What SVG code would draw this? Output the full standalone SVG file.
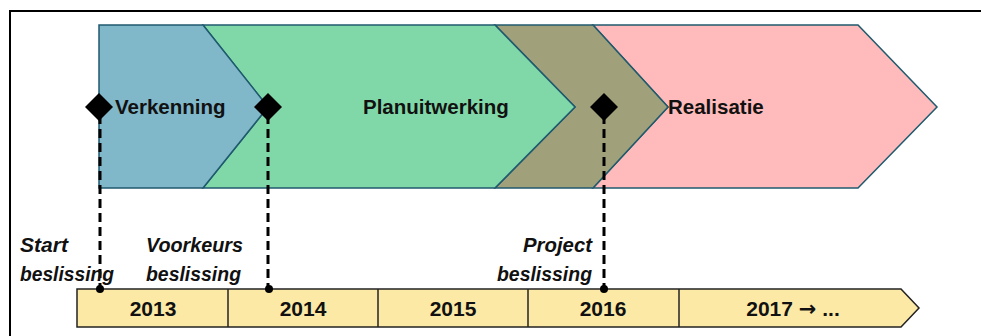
<svg xmlns="http://www.w3.org/2000/svg" width="981" height="336" viewBox="0 0 981 336">
<style>
.ph{stroke:#1f5a6e;stroke-width:1.5;stroke-linejoin:miter}
.lbl{font-family:"Liberation Sans",Arial,sans-serif;font-weight:bold;font-size:20.5px;fill:#111}
.yr{font-family:"Liberation Sans",Arial,sans-serif;font-weight:bold;font-size:21px;fill:#111;text-anchor:middle}
.it{font-family:"Liberation Sans",Arial,sans-serif;font-weight:bold;font-style:italic;font-size:20px;fill:#111}
.dash{stroke:#000;stroke-width:3;stroke-dasharray:9 5;fill:none}
.yb{fill:#fde9a6;stroke:#222;stroke-width:1.5}
.sep{stroke:#222;stroke-width:1.5}
</style>
<rect x="0" y="0" width="981" height="336" fill="#fff"/>
<path d="M10 350 V11 H990" fill="none" stroke="#000" stroke-width="2"/>
<g id="realisatie">
<polygon class="ph" points="593,25 858,25 937,107 858,188 593,188 668,107" fill="#ffbbbb"/>
<text class="lbl" x="668" y="114">Realisatie</text>
</g>
<g id="overlap">
<polygon class="ph" points="495,25 593,25 668,107 593,188 495,188 575,107" fill="#a0a07a"/>
</g>
<g id="planuitwerking">
<polygon class="ph" points="203,25 495,25 575,107 495,188 203,188 268,107" fill="#80d8a8"/>
<text class="lbl" x="363" y="114">Planuitwerking</text>
</g>
<g id="verkenning">
<polygon class="ph" points="99,25 203,25 268,107 203,188 99,188" fill="#80b7c9"/>
<text class="lbl" x="115" y="114">Verkenning</text>
</g>
<g id="timeline">
<polygon class="yb" points="77,289 901,289 919,308 901,327 77,327"/>
<line class="sep" x1="228" y1="289" x2="228" y2="327"/>
<line class="sep" x1="378" y1="289" x2="378" y2="327"/>
<line class="sep" x1="528" y1="289" x2="528" y2="327"/>
<line class="sep" x1="679" y1="289" x2="679" y2="327"/>
<text class="yr" x="153" y="316">2013</text>
<text class="yr" x="303" y="316">2014</text>
<text class="yr" x="453" y="316">2015</text>
<text class="yr" x="603" y="316">2016</text>
<text class="yr" x="793" y="316">2017 <tspan font-family="'DejaVu Sans',sans-serif">→</tspan> ...</text>
</g>
<g id="connectors">
<line class="dash" x1="100" y1="115" x2="100" y2="289"/>
<line class="dash" x1="268" y1="115" x2="268" y2="289"/>
<line class="dash" x1="604" y1="115" x2="604" y2="289"/>
</g>
<g id="milestone-start">
<polygon points="99,93 113,107 99,121 85,107" fill="#000"/>
<circle cx="100" cy="289" r="4" fill="#000"/>
<text class="it" x="20" y="252" textLength="48" lengthAdjust="spacingAndGlyphs">Start</text>
<text class="it" x="20" y="281" textLength="94" lengthAdjust="spacingAndGlyphs">beslissing</text>
</g>
<g id="milestone-voorkeurs">
<polygon points="268,93 282,107 268,121 254,107" fill="#000"/>
<circle cx="269" cy="289" r="4" fill="#000"/>
<text class="it" x="146" y="252" textLength="97" lengthAdjust="spacingAndGlyphs">Voorkeurs</text>
<text class="it" x="146" y="281" textLength="95" lengthAdjust="spacingAndGlyphs">beslissing</text>
</g>
<g id="milestone-project">
<polygon points="604,93 618,107 604,121 590,107" fill="#000"/>
<circle cx="604" cy="289" r="4" fill="#000"/>
<text class="it" x="523" y="252" textLength="69" lengthAdjust="spacingAndGlyphs">Project</text>
<text class="it" x="497" y="281" textLength="95" lengthAdjust="spacingAndGlyphs">beslissing</text>
</g>
</svg>
